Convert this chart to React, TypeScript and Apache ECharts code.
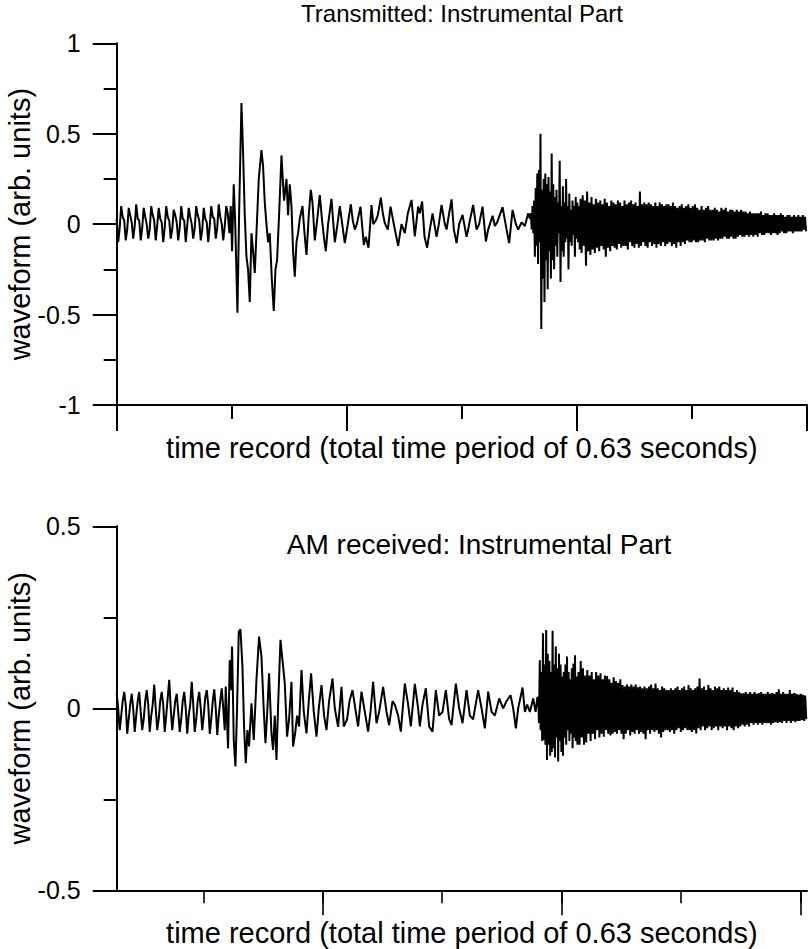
import { useEffect, useRef } from "react";
import * as echarts from "echarts";

// ---------- axis settings ----------
const TIME_MAX = 690;
const TOP_Y_TICKS = [-1, -0.5, 0, 0.5, 1];
const BOT_Y_TICKS = [-0.5, 0, 0.5];

// ---------- Transmitted waveform ----------
// uniform segment (start, step in time units)
const TOP_A_START = 0;
const TOP_A_STEP = 1.5;
const TOP_A = [
  0.03, -0.1, -0.02, 0.1, 0.04,
  0.02, -0.09, -0.03, 0.09, 0.05,
  0.01, -0.08, -0.01, 0.11, 0.03,
  0.02, -0.09, -0.02, 0.09, 0.04,
  0.0, -0.08, -0.03, 0.1, 0.05,
  0.02, -0.09, -0.01, 0.09, 0.03,
  0.01, -0.1, -0.02, 0.1, 0.04,
  0.02, -0.08, -0.03, 0.08, 0.05,
  0.01, -0.09, -0.02, 0.1, 0.03,
  0.02, -0.1, -0.01, 0.09, 0.04,
  0.0, -0.08, -0.02, 0.1, 0.05,
  0.02, -0.09, -0.03, 0.09, 0.03,
  0.01, -0.1, -0.01, 0.1, 0.04,
  0.03, -0.08, -0.02, 0.11, 0.04,
  0.0, -0.09, -0.01, 0.1, 0.06,
];
// irregular segment: [time, value]
const TOP_B = [
  [111.3, 0.06], [112.7, -0.05], [114, 0.1], [115.3, -0.15], [117, 0.22], [118.5, 0.0],
  [120.7, -0.49], [122.5, 0.1], [124.7, 0.67], [126.3, 0.4], [128, 0.05], [129.7, -0.18],
  [131.3, -0.25], [133, -0.43], [134.7, -0.05], [136.3, -0.15], [138, -0.27], [139.7, -0.05],
  [142, 0.25], [144.7, 0.41], [146.3, 0.32], [148, 0.12], [149.7, 0.0], [151.3, -0.1],
  [153, -0.05], [155, -0.3], [157, -0.48], [158.7, -0.25], [160.3, -0.2], [162.3, 0.05],
  [164.7, 0.38], [166.3, 0.22], [167.3, 0.13], [169.7, 0.25], [171.3, 0.05], [173, 0.22],
  [174.7, 0.1], [176.3, -0.15], [178, -0.29], [179.7, -0.1], [181.3, -0.05], [183, 0.03],
  [185.7, 0.1], [187.7, -0.05], [189.7, -0.17], [192, 0.05], [194, 0.19], [195.7, 0.12],
  [198, -0.09], [200.3, 0.02], [203, 0.16], [205.3, 0.02], [207.3, -0.08], [209, -0.15],
  [211.3, 0.0], [214.7, 0.14], [216.3, 0.02], [218, -0.1], [220.7, 0.0], [223, 0.1],
  [228, -0.105], [231, 0.0], [234, 0.11], [236, 0.02], [238, -0.03], [240, 0.0],
  [243.7, 0.097], [247, -0.115], [249, -0.07], [251.7, -0.13], [254.7, 0.106], [256.5, 0.0],
  [259, 0.02], [261, 0.05], [264, 0.146], [266, 0.06], [268, 0.005], [271, -0.03],
  [273.7, 0.097], [277, 0.0], [281.3, -0.12], [284.7, 0.0], [288, -0.05], [291, 0.06],
  [294.7, 0.134], [298, -0.068], [301.3, 0.097], [303, 0.06], [305.3, 0.125], [307.7, -0.07],
  [310.3, -0.13], [313, -0.03], [315.7, 0.06], [319.7, -0.07], [322, 0.0], [324.7, 0.106],
  [328, 0.0], [329.7, -0.03], [332, 0.05], [334.7, 0.137], [337, -0.03], [339.7, -0.105],
  [342.3, 0.0], [345.7, 0.051], [349.7, -0.07], [351.3, -0.03], [353, 0.02], [356.3, 0.106],
  [359.7, -0.03], [362.3, 0.0], [365.7, 0.097], [369, -0.096], [371.3, -0.03], [375.7, 0.046],
  [378, -0.01], [380.3, 0.01], [385.7, 0.094], [389.7, -0.03], [392.3, -0.105], [395.7, 0.079],
  [399, 0.0], [401.3, -0.03], [404.7, 0.01], [408, -0.01], [411.3, 0.06], [413, 0.03],
];
const TOP_C_START = 414;
const TOP_C_STEP = 0.8;
const TOP_C = [
  0.06, -0.03, 0.1, -0.05, 0.13, -0.18, 0.2, -0.12, 0.28, -0.22,
  0.3, -0.1, 0.5, -0.58, 0.19, -0.3, 0.25, -0.43, 0.28, -0.2,
  0.22, -0.36, 0.26, -0.15, 0.18, -0.3, 0.39, -0.2, 0.22, -0.25,
  0.15, -0.12, 0.19, -0.18, 0.12, -0.05, 0.35, -0.32, 0.1, -0.15,
  0.21, -0.18, 0.12, -0.1, 0.25, -0.08, 0.1, -0.25, 0.17, -0.1,
  0.08, -0.12, 0.13, -0.06, 0.1, -0.18, 0.15, -0.08, 0.12, -0.1,
  0.1, -0.14,
];
const TOP_D_START = 463.6;
const TOP_D_STEP = 1.1;
const TOP_D = [
  0.14, -0.16, 0.16, -0.12, 0.13, -0.23, 0.18, -0.15, 0.12, -0.17,
  0.15, -0.14, 0.11, -0.16, 0.14, -0.13, 0.12, -0.15, 0.13, -0.12,
  0.11, -0.14, 0.14, -0.18, 0.12, -0.13, 0.1, -0.15, 0.13, -0.12,
  0.12, -0.13, 0.11, -0.14, 0.13, -0.11, 0.12, -0.13, 0.1, -0.12,
  0.13, -0.12, 0.11, -0.14, 0.12, -0.1, 0.13, -0.12, 0.11, -0.13,
  0.12, -0.11, 0.1, -0.13, 0.18, -0.12, 0.11, -0.1, 0.12, -0.12,
  0.11, -0.13, 0.12, -0.1, 0.11, -0.12, 0.1, -0.11, 0.12, -0.13,
  0.1, -0.11, 0.12, -0.12, 0.11, -0.1, 0.1, -0.12, 0.11, -0.11,
  0.11, -0.1, 0.1, -0.12, 0.12, -0.11, 0.1, -0.13, 0.09, -0.1,
  0.1, -0.12, 0.11, -0.1, 0.09, -0.11, 0.1, -0.09, 0.11, -0.1,
  0.09, -0.1, 0.1, -0.09, 0.11, -0.1, 0.09, -0.1, 0.08, -0.09,
  0.1, -0.09, 0.08, -0.1, 0.09, -0.08, 0.1, -0.09, 0.08, -0.09,
  0.08, -0.09, 0.09, -0.08, 0.08, -0.09, 0.07, -0.08, 0.09, -0.08,
  0.08, -0.07, 0.09, -0.08, 0.07, -0.08, 0.08, -0.07, 0.08, -0.08,
  0.07, -0.08, 0.08, -0.07, 0.07, -0.06, 0.08, -0.07, 0.07, -0.07,
  0.07, -0.06, 0.06, -0.07, 0.07, -0.06, 0.06, -0.07, 0.06, -0.06,
  0.06, -0.07, 0.06, -0.05, 0.07, -0.06, 0.05, -0.06, 0.06, -0.05,
  0.06, -0.05, 0.05, -0.06, 0.05, -0.05, 0.06, -0.05, 0.05, -0.06,
  0.05, -0.05, 0.06, -0.04, 0.05, -0.05, 0.04, -0.05, 0.05, -0.04,
  0.05, -0.04, 0.04, -0.05, 0.05, -0.04, 0.04, -0.04, 0.05, -0.04,
  0.04, -0.04, 0.05, -0.03, 0.04, -0.04,
];

// ---------- AM received waveform ----------
const BOT_A_START = 0;
const BOT_A_STEP = 1.5;
const BOT_A = [
  0.04, 0.0, -0.06, -0.02, 0.02,
  0.045, 0.01, -0.07, -0.03, 0.01,
  0.04, 0.0, -0.065, -0.02, 0.02,
  0.045, -0.01, -0.06, -0.03, 0.02,
  0.05, 0.01, -0.065, -0.02, 0.01,
  0.065, 0.0, -0.06, -0.03, 0.02,
  0.045, 0.01, -0.065, -0.02, 0.03,
  0.078, 0.0, -0.06, -0.02, 0.02,
  0.04, -0.01, -0.065, -0.03, 0.02,
  0.045, 0.0, -0.07, -0.02, 0.01,
  0.073, 0.01, -0.065, -0.03, 0.02,
  0.045, 0.0, -0.06, -0.02, 0.03,
  0.05, 0.01, -0.07, -0.03, 0.02,
  0.052, 0.0, -0.073, -0.02, 0.02,
  0.055, 0.0, -0.06,
];
const BOT_B = [
  [109, 0.06], [111.3, -0.11], [113, 0.132], [114, 0.05], [115.3, 0.17], [117, -0.087],
  [118.7, -0.16], [120.3, 0.0], [122, 0.21], [123.7, 0.217], [125.7, 0.114], [127.3, -0.05],
  [129, -0.151], [130.7, -0.06], [132.3, -0.105], [134.7, 0.014], [137, -0.087], [139.7, 0.078],
  [142.3, 0.197], [144.7, 0.142], [147, -0.005], [148.7, -0.096], [150.3, -0.02], [152.3, 0.096],
  [154.7, -0.069], [156.3, -0.114], [158, -0.02], [159.7, -0.142], [161.3, 0.005], [163.7, 0.188],
  [165.7, 0.132], [168, 0.069], [170.3, -0.078], [172.3, -0.03], [174.7, 0.073], [176.3, -0.105],
  [178.3, -0.07], [180.3, -0.02], [182.3, -0.05], [184.7, 0.105], [187, -0.01], [189.7, -0.069],
  [192, 0.02], [194.3, 0.096], [197, -0.01], [199.7, -0.078], [202, 0.0], [204.7, 0.064],
  [207.3, -0.02], [209.7, -0.06], [212.3, 0.02], [215.7, 0.082], [218, 0.0], [221.3, -0.051],
  [224.7, 0.059], [227, -0.05], [230.3, -0.03], [232.7, 0.02], [235.7, 0.05], [239, -0.01],
  [241.3, -0.05], [244.7, 0.046], [248, -0.01], [251.3, -0.064], [253.7, -0.01], [256.3, 0.073],
  [259.7, -0.041], [262.3, -0.01], [266.3, 0.059], [269.7, -0.01], [272.3, -0.046], [275.7, 0.02],
  [278, 0.01], [281.3, -0.02], [284, -0.064], [288, 0.068], [291.3, 0.01], [294, -0.05],
  [298, 0.067], [301.3, 0.0], [303, -0.05], [305.7, 0.01], [309, 0.055], [312.3, -0.05],
  [315.7, -0.064], [319, 0.05], [322.3, -0.02], [325.7, -0.01], [329, 0.05], [332.3, -0.03],
  [334.7, -0.046], [339, 0.068], [342.3, 0.0], [345.7, -0.041], [349.7, 0.05], [353, -0.02],
  [356.3, -0.03], [361.3, 0.05], [364.7, 0.0], [368, -0.055], [371.3, 0.046], [374.7, -0.01],
  [378, -0.02], [382.3, 0.027], [386.3, 0.0], [389.7, 0.02], [393.7, 0.036], [396.3, 0.0],
  [399, -0.055], [401.3, 0.0], [405.7, 0.057], [408, -0.01], [410.3, 0.01], [413, -0.01],
  [416.3, 0.027], [418.7, -0.01], [420.5, 0.03],
];
const BOT_C_START = 421.3;
const BOT_C_STEP = 0.8;
const BOT_C = [
  0.03, -0.04, 0.132, -0.06, 0.1, -0.09, 0.206, -0.087, 0.12, -0.1,
  0.215, -0.142, 0.15, -0.1, 0.13, -0.13, 0.1, -0.12, 0.213, -0.11,
  0.12, -0.135, 0.17, -0.08, 0.11, -0.146, 0.15, -0.09, 0.12, -0.12,
  0.087, -0.13, 0.1, -0.08, 0.12, -0.1, 0.142, -0.06, 0.1, -0.09,
  0.08, -0.07, 0.11, -0.11, 0.123, -0.08, 0.146, -0.09, 0.087, -0.1,
];
const BOT_D_START = 461.6;
const BOT_D_STEP = 1.1;
const BOT_D = [
  0.1, -0.1, 0.13, -0.08, 0.11, -0.1, 0.09, -0.094, 0.105, -0.07,
  0.09, -0.09, 0.1, -0.07, 0.08, -0.085, 0.1, -0.06, 0.09, -0.08,
  0.096, -0.07, 0.08, -0.078, 0.09, -0.06, 0.089, -0.07, 0.08, -0.075,
  0.07, -0.07, 0.085, -0.065, 0.075, -0.07, 0.07, -0.06, 0.08, -0.07,
  0.064, -0.085, 0.06, -0.07, 0.065, -0.06, 0.06, -0.075, 0.065, -0.065,
  0.06, -0.07, 0.065, -0.06, 0.058, -0.07, 0.06, -0.065, 0.055, -0.07,
  0.06, -0.085, 0.055, -0.06, 0.06, -0.07, 0.065, -0.06, 0.055, -0.065,
  0.068, -0.06, 0.055, -0.07, 0.05, -0.08, 0.06, -0.065, 0.055, -0.06,
  0.05, -0.06, 0.05, -0.065, 0.055, -0.06, 0.05, -0.07, 0.055, -0.06,
  0.06, -0.055, 0.05, -0.065, 0.055, -0.06, 0.06, -0.055, 0.05, -0.06,
  0.064, -0.06, 0.055, -0.065, 0.05, -0.06, 0.055, -0.069, 0.06, -0.055,
  0.082, -0.06, 0.055, -0.05, 0.06, -0.06, 0.05, -0.055, 0.064, -0.05,
  0.055, -0.06, 0.05, -0.055, 0.06, -0.05, 0.055, -0.06, 0.06, -0.05,
  0.05, -0.055, 0.055, -0.05, 0.05, -0.06, 0.057, -0.05, 0.05, -0.055,
  0.057, -0.06, 0.045, -0.05, 0.05, -0.055, 0.045, -0.05, 0.041, -0.045,
  0.041, -0.05, 0.045, -0.045, 0.04, -0.05, 0.045, -0.04, 0.04, -0.045,
  0.045, -0.04, 0.04, -0.045, 0.042, -0.04, 0.045, -0.045, 0.04, -0.04,
  0.04, -0.041, 0.045, -0.04, 0.04, -0.045, 0.042, -0.04, 0.04, -0.038,
  0.045, -0.04, 0.052, -0.038, 0.04, -0.04, 0.045, -0.035, 0.04, -0.04,
  0.04, -0.035, 0.05, -0.04, 0.04, -0.035, 0.042, -0.038, 0.04, -0.035,
  0.038, -0.035, 0.04, -0.032, 0.037, -0.035, 0.035, -0.03,
];

// ---------- texts ----------
const TOP_TITLE = "Transmitted: Instrumental Part";
const BOT_TITLE = "AM received: Instrumental Part";
const X_NAME = "time record (total time period of 0.63 seconds)";
const Y_NAME = "waveform (arb. units)";

const FONT = "'Liberation Sans', Arial, Helvetica, sans-serif";

function uniform(start: number, step: number, vals: number[]) {
  return vals.map((v, i) => [Number((start + i * step).toFixed(3)), v]);
}

const topData = [
  ...uniform(TOP_A_START, TOP_A_STEP, TOP_A),
  ...TOP_B,
  ...uniform(TOP_C_START, TOP_C_STEP, TOP_C),
  ...uniform(TOP_D_START, TOP_D_STEP, TOP_D),
];
const botData = [
  ...uniform(BOT_A_START, BOT_A_STEP, BOT_A),
  ...BOT_B,
  ...uniform(BOT_C_START, BOT_C_STEP, BOT_C),
  ...uniform(BOT_D_START, BOT_D_STEP, BOT_D),
];

export default function App() {
  const ref = useRef<HTMLDivElement>(null);
  useEffect(() => {
    if (!ref.current) return;
    const chart = echarts.init(ref.current, undefined, { renderer: "svg" });
    const black = "#000";
    const yLabel = {
      show: true,
      color: black,
      fontSize: 25,
      fontFamily: FONT,
      margin: 36,
    };
    const yName = {
      name: Y_NAME,
      nameLocation: "middle" as const,
      nameRotate: 90,
      nameGap: 82,
      nameMoveOverlap: false,
      nameTextStyle: { color: black, fontSize: 29, fontFamily: FONT },
    };
    const xName = {
      name: X_NAME,
      nameLocation: "middle" as const,
      nameGap: 28,
      nameMoveOverlap: false,
      nameTextStyle: { color: black, fontSize: 29, fontFamily: FONT },
    };
    const gridBase = { containLabel: false, outerBoundsMode: "none" };
    chart.setOption({
      animation: false,
      backgroundColor: "#fff",
      grid: [
        { ...gridBase, left: 116.7, top: 43.3, width: 690.3, height: 361.7 },
        { ...gridBase, left: 116.7, top: 526.3, width: 690.3, height: 364 },
        { ...gridBase, left: 203.3, top: 526.3, width: 597, height: 364 },
        { ...gridBase, left: 322.7, top: 526.3, width: 477.6, height: 364 },
      ],
      xAxis: [
        {
          gridIndex: 0,
          type: "value",
          min: 0,
          max: TIME_MAX,
          interval: 230,
          ...xName,
          axisLine: { show: true, onZero: false, lineStyle: { color: black, width: 2 } },
          axisTick: { show: true, length: 26, lineStyle: { color: black, width: 2 } },
          minorTick: { show: true, splitNumber: 2, length: 14, lineStyle: { color: black, width: 2 } },
          axisLabel: { show: false },
          splitLine: { show: false },
        },
        {
          gridIndex: 1,
          type: "value",
          min: 0,
          max: TIME_MAX,
          ...xName,
          axisLine: { show: true, onZero: false, lineStyle: { color: black, width: 2 } },
          axisTick: { show: false },
          axisLabel: { show: false },
          splitLine: { show: false },
        },
        {
          gridIndex: 2,
          type: "value",
          min: 0,
          max: 5,
          interval: 1,
          axisLine: { show: false, onZero: false },
          axisTick: { show: true, length: 13, lineStyle: { color: black, width: 1.6 } },
          axisLabel: { show: false },
          splitLine: { show: false },
        },
        {
          gridIndex: 3,
          type: "value",
          min: 0,
          max: 4,
          interval: 2,
          axisLine: { show: false, onZero: false },
          axisTick: { show: true, length: 25, lineStyle: { color: black, width: 1.6 } },
          axisLabel: { show: false },
          splitLine: { show: false },
        },
      ],
      yAxis: [
        {
          gridIndex: 0,
          type: "value",
          min: TOP_Y_TICKS[0],
          max: TOP_Y_TICKS[TOP_Y_TICKS.length - 1],
          interval: 0.5,
          ...yName,
          axisLine: { show: true, onZero: false, lineStyle: { color: black, width: 2 } },
          axisTick: { show: true, length: 24, lineStyle: { color: black, width: 2 } },
          minorTick: { show: true, splitNumber: 2, length: 13, lineStyle: { color: black, width: 2 } },
          axisLabel: yLabel,
          splitLine: { show: false },
        },
        {
          gridIndex: 1,
          type: "value",
          min: BOT_Y_TICKS[0],
          max: BOT_Y_TICKS[BOT_Y_TICKS.length - 1],
          interval: 0.5,
          ...yName,
          axisLine: { show: true, onZero: false, lineStyle: { color: black, width: 2 } },
          axisTick: { show: true, length: 24, lineStyle: { color: black, width: 2 } },
          minorTick: { show: true, splitNumber: 2, length: 13, lineStyle: { color: black, width: 2 } },
          axisLabel: yLabel,
          splitLine: { show: false },
        },
        { gridIndex: 2, type: "value", min: 0, max: 1, show: false },
        { gridIndex: 3, type: "value", min: 0, max: 1, show: false },
      ],
      graphic: [
        {
          type: "text",
          x: 462,
          y: 1,
          style: {
            text: TOP_TITLE,
            font: `24px ${FONT}`,
            fill: black,
            textAlign: "center",
            textVerticalAlign: "top",
          },
        },
        {
          type: "text",
          x: 479,
          y: 530,
          style: {
            text: BOT_TITLE,
            font: `28px ${FONT}`,
            fill: black,
            textAlign: "center",
            textVerticalAlign: "top",
          },
        },
      ],
      series: [
        {
          type: "line",
          xAxisIndex: 0,
          yAxisIndex: 0,
          data: topData,
          showSymbol: false,
          symbol: "none",
          lineStyle: { color: black, width: 2 },
          clip: true,
        },
        {
          type: "line",
          xAxisIndex: 1,
          yAxisIndex: 1,
          data: botData,
          showSymbol: false,
          symbol: "none",
          lineStyle: { color: black, width: 2 },
          clip: true,
        },
      ],
    });
    return () => chart.dispose();
  }, []);
  return (
    <div
      ref={ref}
      style={{ position: "fixed", left: 0, top: 0, width: 811, height: 949, background: "#fff" }}
    />
  );
}
